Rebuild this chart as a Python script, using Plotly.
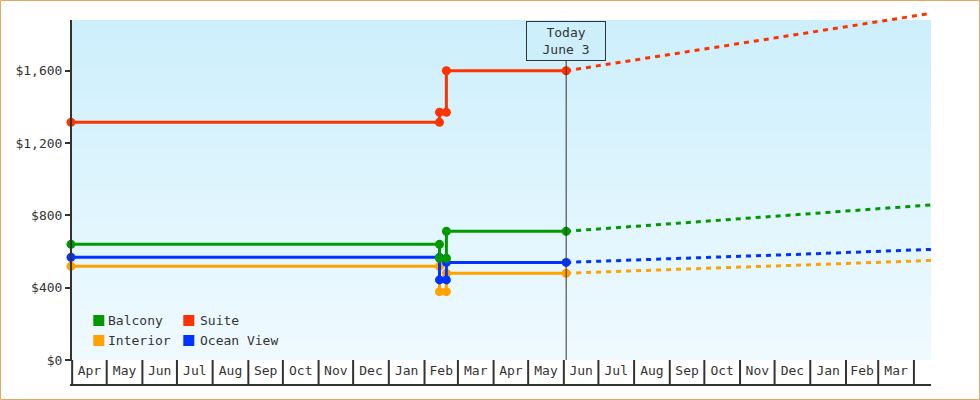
import plotly.graph_objects as go
import pandas as pd

# ---------------- data ----------------
series_names = ["Interior", "Ocean View", "Balcony", "Suite"]
series_colors = ["#FFA200", "#0033FF", "#009900", "#FF3300"]

hist_dates = ["2015-03-31", "2016-02-14", "2016-02-14", "2016-02-20", "2016-02-20", "2016-06-03"]
interior_hist = [518, 518, 378, 378, 480, 480]
ocean_hist = [568, 568, 443, 443, 540, 540]
balcony_hist = [640, 640, 563, 563, 712, 712]
suite_hist = [1315, 1315, 1370, 1370, 1600, 1600]

proj_dates = ["2016-06-03", "2016-07-01", "2016-08-01", "2016-09-01", "2016-10-01", "2016-11-01",
              "2016-12-01", "2017-01-01", "2017-02-01", "2017-03-01", "2017-04-01", "2017-04-15 20:00"]
interior_proj = [480, 487, 494, 500, 507, 514, 520, 527, 533, 539, 546, 551]
ocean_proj = [540, 547, 553, 560, 567, 574, 580, 587, 594, 600, 607, 612]
balcony_proj = [712, 725, 739, 754, 768, 782, 795, 809, 824, 837, 850, 858]
suite_proj = [1600, 1628, 1658, 1690, 1719, 1751, 1780, 1812, 1843, 1871, 1902, 1918]

y_tickvals = [0, 400, 800, 1200, 1600]
y_ticktext = ["$0", "$400", "$800", "$1,200", "$1,600"]
today_date = "2016-06-03"
today_label = "Today<br>June 3"
x_range = ["2015-03-31", "2017-04-15 20:00"]

hist = [interior_hist, ocean_hist, balcony_hist, suite_hist]
proj = [interior_proj, ocean_proj, balcony_proj, suite_proj]

# ---------------- layout geometry ----------------
W, H = 980, 400
ML, MR, MT, MB = 71, 49, 10, 40
PW, PH = W - ML - MR, H - MT - MB
PX_PER_DOLLAR = 72.3 / 400.0
y_top = PH / PX_PER_DOLLAR

def px_to_paper_x(px):
    return (px - ML) / PW

def px_to_paper_y(py):
    return (H - MB - py) / PH

FONT = "DejaVu Sans Mono"
TXT = "#333333"

fig = go.Figure()

for name, col, h, p in zip(series_names, series_colors, hist, proj):
    fig.add_trace(go.Scatter(x=proj_dates, y=p, mode="lines", name=name,
                             line=dict(color=col, width=3, dash="5px,5px"),
                             showlegend=False, hoverinfo="skip"))
for name, col, h, p in zip(series_names, series_colors, hist, proj):
    fig.add_trace(go.Scatter(x=hist_dates, y=h, mode="lines+markers", name=name,
                             line=dict(color=col, width=3),
                             marker=dict(color=col, size=9, symbol="circle"),
                             showlegend=False, cliponaxis=False))

shapes = []
# gradient background (pixel 20 .. 360)
top_c = (204, 239, 252)
bot_c = (240, 250, 255)
nb = 34
for i in range(nb):
    py0 = 20 + i * 10
    py1 = py0 + 10
    t = (i + 0.5) / nb
    c = tuple(int(round(top_c[k] + (bot_c[k] - top_c[k]) * t)) for k in range(3))
    shapes.append(dict(type="rect", xref="paper", yref="paper", x0=0, x1=1,
                       y0=px_to_paper_y(py1), y1=px_to_paper_y(py0),
                       fillcolor="rgb(%d,%d,%d)" % c, line=dict(width=0), layer="below"))

# y axis line
shapes.append(dict(type="line", xref="paper", yref="paper", x0=0, x1=0,
                   y0=px_to_paper_y(361), y1=px_to_paper_y(20),
                   line=dict(color=TXT, width=2)))
# month cell borders
for d in pd.date_range("2015-04-01", "2017-04-01", freq="MS"):
    shapes.append(dict(type="line", xref="x", yref="paper", x0=d, x1=d,
                       y0=px_to_paper_y(385), y1=px_to_paper_y(360),
                       line=dict(color=TXT, width=2)))
# bottom line of month row
shapes.append(dict(type="line", xref="paper", yref="paper",
                   x0=px_to_paper_x(70), x1=1,
                   y0=px_to_paper_y(385), y1=px_to_paper_y(385),
                   line=dict(color=TXT, width=2)))
# today line
today_box_bottom = (H - MB - 60.7) / PX_PER_DOLLAR
shapes.append(dict(type="line", xref="x", yref="y", x0=today_date, x1=today_date,
                   y0=0, y1=today_box_bottom, line=dict(color=TXT, width=1)))
# outer border
shapes.append(dict(type="rect", xref="paper", yref="paper",
                   x0=px_to_paper_x(0.5), x1=px_to_paper_x(979.5),
                   y0=px_to_paper_y(399.5), y1=px_to_paper_y(0.5),
                   line=dict(color="#E8A865", width=1), fillcolor="rgba(0,0,0,0)"))

annotations = [dict(x=today_date, y=today_box_bottom, xref="x", yref="y",
                    text=today_label, showarrow=False, yanchor="bottom", xanchor="center",
                    font=dict(family=FONT, size=13, color=TXT),
                    bordercolor=TXT, borderwidth=1, borderpad=3, width=72,
                    bgcolor="rgb(205,239,252)", align="center")]

# manual legend: Balcony, Suite / Interior, Ocean View
legend_layout = {"Balcony": (93.3, 106.5, 320.5), "Suite": (183.3, 198.5, 320.5),
                 "Interior": (93.3, 106.5, 340.5), "Ocean View": (183.3, 198.5, 340.5)}
for name, col in zip(series_names, series_colors):
    sx, tx, cy = legend_layout[name]
    shapes.append(dict(type="rect", xref="paper", yref="paper",
                       x0=px_to_paper_x(sx), x1=px_to_paper_x(sx + 11),
                       y0=px_to_paper_y(cy + 5.5), y1=px_to_paper_y(cy - 5.5),
                       fillcolor=col, line=dict(width=0)))
    annotations.append(dict(x=px_to_paper_x(tx), y=px_to_paper_y(cy), xref="paper", yref="paper",
                            text=name, showarrow=False, xanchor="left", yanchor="middle",
                            font=dict(family=FONT, size=13, color=TXT), borderpad=0))

fig.update_layout(
    width=W, height=H,
    margin=dict(l=ML, r=MR, t=MT, b=MB, pad=0),
    paper_bgcolor="white", plot_bgcolor="white",
    shapes=shapes, annotations=annotations,
    showlegend=False,
    xaxis=dict(type="date", range=x_range, showgrid=False, zeroline=False, showline=False,
               ticks="", dtick="M1", tick0="2015-04-01", tickformat="%b",
               ticklabelmode="period", tickfont=dict(family=FONT, size=13, color=TXT),
               ticklabelstandoff=1),
    yaxis=dict(range=[0, y_top], showgrid=False, zeroline=False, showline=False,
               tickvals=y_tickvals, ticktext=y_ticktext,
               ticks="outside", ticklen=5, tickwidth=2, tickcolor=TXT,
               tickfont=dict(family=FONT, size=13, color=TXT)),
)

fig.write_html("out.html")
